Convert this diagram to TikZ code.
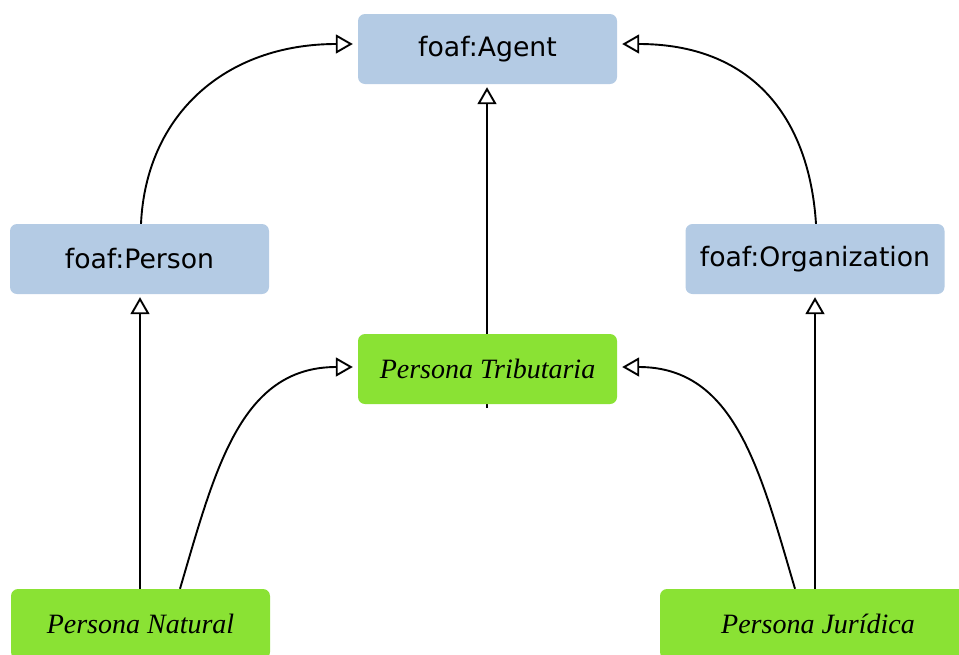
\documentclass[tikz,border=0pt]{standalone}
\usepackage{fontspec}
\setmainfont{Liberation Serif}
\newfontfamily\labelsans{DejaVu Sans}
\usetikzlibrary{arrows.meta,backgrounds}

\definecolor{foafblue}{HTML}{B4CBE4}
\definecolor{localgreen}{HTML}{8AE234}

\tikzset{
  classbox/.style={rounded corners=7pt, draw=none, minimum width=259pt,
    minimum height=70pt, inner sep=0pt, text=black},
  foafclass/.style={classbox, fill=foafblue,
    font=\labelsans\fontsize{26.7}{32}\selectfont},
  localclass/.style={classbox, fill=localgreen,
    font=\itshape\fontsize{28}{34}\selectfont},
  isa/.style={line width=1.9pt, draw=black,
    -{Triangle[open, length=17pt, width=19pt, line width=1.9pt]}},
  isavert/.style={isa, shorten >=3pt},
  isacurve/.style={isa, shorten >=5pt},
}

\begin{document}
\begin{tikzpicture}[x=1pt, y=-1pt]
  \useasboundingbox (0,0) rectangle (959,654);
  \clip (0,0) rectangle (959,654);

  % superclasses from FOAF
  \node[foafclass] (agent) at (487.5,49) {foaf:Agent};
  \node[foafclass] (person) at (139.5,259) {foaf:Person};
  \node[foafclass] (org) at (815,259) {foaf:Organization};

  % local classes
  \node[localclass] (tributaria) at (487.5,369) {Persona Tributaria};
  \node[localclass] (natural) at (140.5,624) {Persona Natural};
  \node[localclass, minimum width=316pt] (juridica) at (818,624) {Persona Jurídica};

  \coordinate (tstub) at (487,408);
  \coordinate (pbase) at (140,589);

  \begin{pgfonlayer}{background}
    % straight subclass links
    \draw[isavert] (tstub) -- (tstub |- agent.south);
    \draw[isavert] (pbase) -- (pbase |- person.south);
    \draw[isavert] (juridica.north -| org.south) -- (org.south);

    % curved subclass links
    \draw[isacurve] ([xshift=1.5pt]person.north)
      .. controls (146,115) and (225,44) .. ([yshift=5pt]agent.west);
    \draw[isacurve] ([xshift=1pt]org.north)
      .. controls (809,115) and (750,44) .. ([yshift=5pt]agent.east);
    \draw[isacurve] ([xshift=39.5pt]natural.north)
      .. controls (215,470) and (240,367) .. ([yshift=2pt]tributaria.west);
    \draw[isacurve] ([xshift=-23pt]juridica.north)
      .. controls (760,470) and (735,367) .. ([yshift=2pt]tributaria.east);
  \end{pgfonlayer}
\end{tikzpicture}
\end{document}
